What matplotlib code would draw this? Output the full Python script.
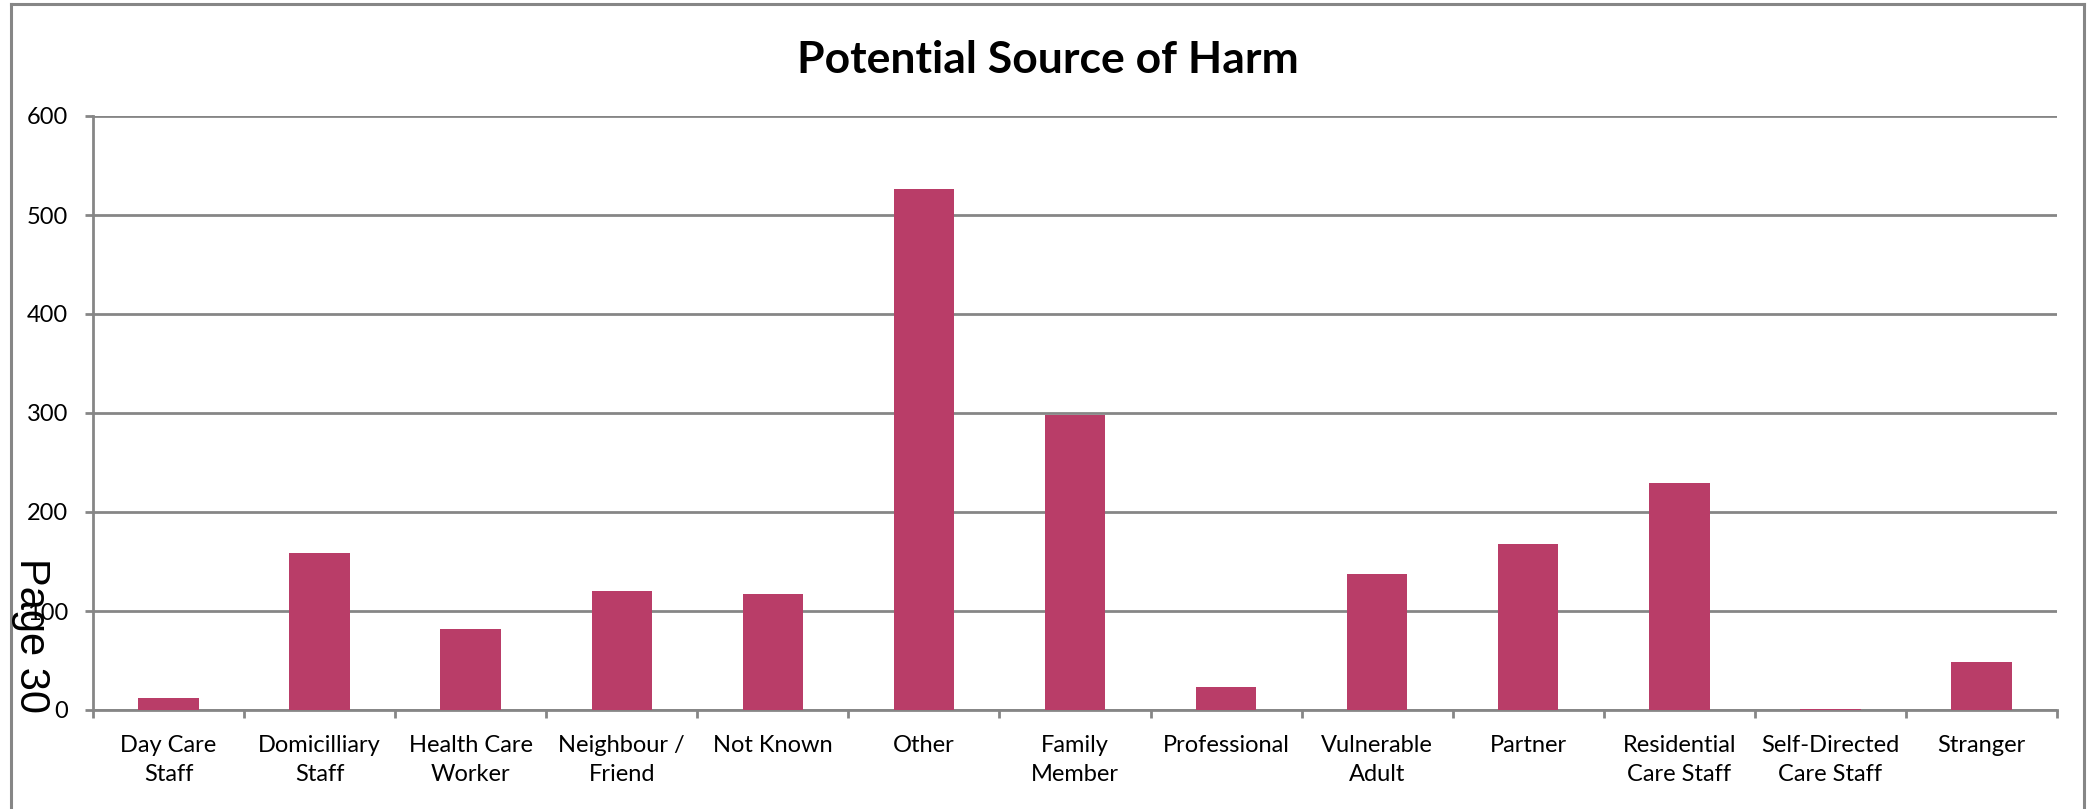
"""Potential Source of Harm: bar chart with the page furniture it was clipped from."""
import matplotlib
matplotlib.use("Agg")

import matplotlib.pyplot as plt
from matplotlib.lines import Line2D
from matplotlib.ticker import FixedLocator

categories = [
    "Day Care\nStaff", "Domicilliary\nStaff", "Health Care\nWorker",
    "Neighbour /\nFriend", "Not Known", "Other", "Family\nMember",
    "Professional", "Vulnerable\nAdult", "Partner", "Residential\nCare Staff",
    "Self-Directed\nCare Staff", "Stranger",
]
counts = [12, 159, 82, 120, 117, 526, 298, 23, 137, 168, 229, 1, 48]
y_ticks = [0, 100, 200, 300, 400, 500, 600]

BAR = "#b93d68"
GREY = "#868686"
W, H = 2091, 809

plt.rcParams["font.family"] = ["Lato", "DejaVu Sans"]

fig = plt.figure(figsize=(W / 100, H / 100), dpi=100)
ax = fig.add_axes([93 / W, 1 - 710 / H, (2057 - 93) / W, (710 - 116) / H])

x = range(len(categories))
ax.bar(x, counts, width=0.4, color=BAR, zorder=3)

ax.set_xlim(-0.5, len(categories) - 0.5)
ax.set_ylim(0, 600)
ax.set_yticks(y_ticks)
ax.set_xticks(list(x))
ax.set_xticklabels(categories, fontsize=17, linespacing=1.45)
ax.xaxis.set_minor_locator(FixedLocator([i - 0.5 for i in range(len(categories) + 1)]))

ax.tick_params(axis="x", which="major", length=0, pad=18)
ax.tick_params(axis="x", which="minor", length=6, width=2, color=GREY,
               direction="out")
ax.tick_params(axis="y", length=6, width=2, color=GREY, direction="out",
               labelsize=17, pad=12)

ax.yaxis.grid(True, color=GREY, lw=2, zorder=1)
ax.set_axisbelow(True)
ax.spines[["top", "right"]].set_visible(False)
for side in ("left", "bottom"):
    ax.spines[side].set_color(GREY)
    ax.spines[side].set_linewidth(2)

fig.text(1048 / W, 1 - 60 / H, "Potential Source of Harm", fontsize=32,
         fontweight="bold", ha="center", va="center")

# frame of the embedded chart object: open at the bottom edge of the crop
for xs, ys in [([11, 11], [809, 4]), ([11, 2084], [4, 4]), ([2084, 2084], [4, 809])]:
    fig.add_artist(Line2D([v / W for v in xs], [1 - v / H for v in ys],
                          transform=fig.transFigure, color=GREY, lw=2.2))

# page number stamped over the axis
fig.text(31 / W, 1 - 636 / H, "Page 30", fontsize=30, rotation=270,
         family=["Liberation Sans", "DejaVu Sans"], ha="center", va="center")

fig.savefig("out.png", dpi=100, facecolor="white")
